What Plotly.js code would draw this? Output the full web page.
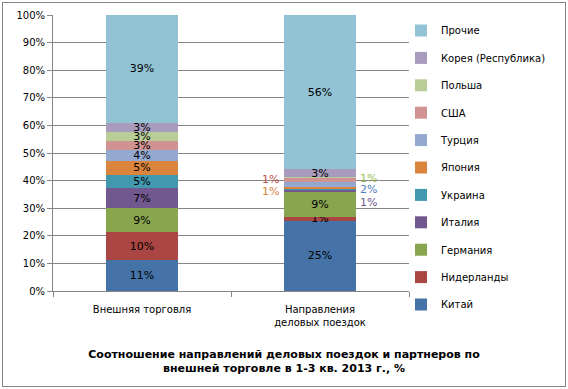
<!DOCTYPE html>
<html><head><meta charset="utf-8">
<script src="https://cdn.plot.ly/plotly-3.0.1.min.js"></script>
<style>html,body{margin:0;padding:0;background:#fff}#frame{position:absolute;left:2px;top:2px;width:564px;height:385px;border:1px solid #868686;box-sizing:border-box;pointer-events:none}</style>
</head><body>
<div id="chart" style="width:568px;height:389px;position:absolute;left:0;top:0"></div>
<div id="frame"></div>
<script>
const categories = ["Внешняя торговля", "Направления<br>деловых поездок"];
const countries = ["Китай","Нидерланды","Германия","Италия","Украина","Япония","Турция","США","Польша","Корея (Республика)","Прочие"];
const colors = ["#4572A7","#AA4643","#89A54E","#71588F","#4198AF","#DB843D","#93A9CF","#D19392","#B9CD96","#A99BBD","#92C3D5"];
const labelColors = ["#4572A7","#AA4643","#89A54E","#71588F","#4198AF","#DB843D","#4F81BD","#C0504D","#9BBB59","#8064A2","#4BACC6"];
// values [foreign trade, business trips], %
const china       = [11.3, 25.4];
const netherlands = [9.9, 1.4];
const germany     = [8.9, 8.9];
const italy       = [7.1, 0.9];
const ukraine     = [5.0, 0.3];
const japan       = [4.8, 0.9];
const turkey      = [4.1, 1.8];
const usa         = [3.4, 1.2];
const poland      = [3.2, 0.6];
const korea       = [3.2, 2.7];
const other       = [39.1, 55.9];
const series = [china, netherlands, germany, italy, ukraine, japan, turkey, usa, poland, korea, other];
const yTicks = [0,10,20,30,40,50,60,70,80,90,100];

// small segments of the second bar get outside labels: [series index, side, yshift]
const outside = [[3,"right",-11],[6,"right",-5],[8,"right",-1],[7,"left",1],[5,"left",-4]];
const hideInside = [3,4,5,6,7,8];

const FONT = "DejaVu Sans";
const traces = series.map((vals, i) => ({
  type: "bar",
  name: countries[i],
  x: categories,
  y: vals,
  marker: {color: colors[i], line: {width: 0}},
  legendgroup: "g" + i,
  legendrank: series.length - i,
  text: vals.map((v, j) => (j === 1 && hideInside.includes(i)) ? "" : Math.round(v) + "%"),
  textposition: "inside",
  insidetextanchor: "middle",
  textangle: 0,
  constraintext: "none",
  textfont: {family: FONT, size: 11, color: "#000"},
  hoverinfo: "name+y"
}));

const annotations = outside.map(([i, side, dy]) => {
  let base = 0;
  for (let k = 0; k < i; k++) base += series[k][1];
  const mid = base + series[i][1] / 2;
  return {
    x: 1, y: mid, xref: "x", yref: "y",
    text: Math.round(series[i][1]) + "%",
    showarrow: false,
    xshift: side === "right" ? 48 : -50,
    yshift: dy,
    font: {family: FONT, size: 11, color: labelColors[i]}
  };
});

const layout = {
  width: 568, height: 389,
  margin: {l: 53, r: 159, t: 15, b: 98, autoexpand: false},
  paper_bgcolor: "#fff", plot_bgcolor: "#fff",
  barmode: "stack",
  bargap: 0.6,
  font: {family: FONT, size: 10, color: "#000"},
  title: {
    text: "<b>Соотношение направлений деловых поездок и партнеров по<br>внешней торговле в 1-3 кв. 2013 г., %</b>",
    font: {family: FONT, size: 11, color: "#000"},
    xref: "container", yref: "container", x: 0.5, xanchor: "center",
    y: 1 - 358/389, yanchor: "middle"
  },
  xaxis: {
    type: "category",
    showline: true, linecolor: "#868686", linewidth: 1,
    ticks: "outside", tickson: "boundaries", ticklen: 5, tickcolor: "#868686",
    ticklabelstandoff: 9,
    tickfont: {family: FONT, size: 10, color: "#000"},
    showgrid: false, fixedrange: true
  },
  yaxis: {
    range: [0, 100],
    tickvals: yTicks,
    ticktext: yTicks.map(v => v + "%"),
    showline: true, linecolor: "#868686", linewidth: 1,
    ticks: "outside", ticklen: 5, tickcolor: "#868686",
    showgrid: true, gridcolor: "#868686", gridwidth: 1,
    zeroline: false,
    tickfont: {family: FONT, size: 10, color: "#000"},
    fixedrange: true
  },
  legend: {
    xref: "container", yref: "container",
    x: 401/568, xanchor: "left", y: 1 - 16/389, yanchor: "top",
    traceorder: "grouped",
    tracegroupgap: 8.4,
    itemwidth: 30,
    maxheight: 380,
    font: {family: FONT, size: 10, color: "#000"},
    bgcolor: "rgba(0,0,0,0)"
  },
  annotations: annotations,
  showlegend: true
};

Plotly.newPlot("chart", traces, layout, {displayModeBar: false, staticPlot: true});
</script>
</body></html>
